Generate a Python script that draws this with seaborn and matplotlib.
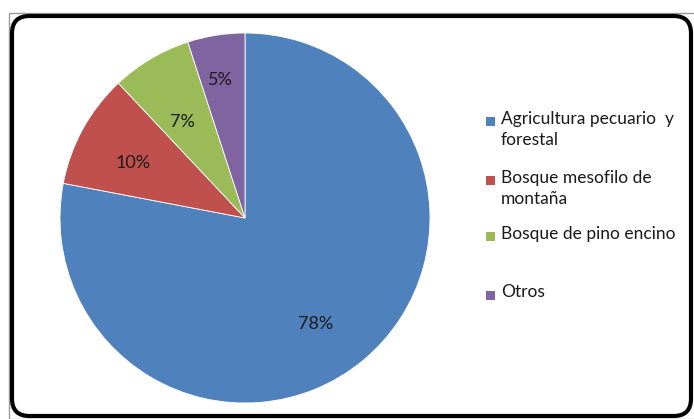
import matplotlib
matplotlib.use("Agg")
import matplotlib.pyplot as plt
from matplotlib.patches import FancyBboxPatch, Rectangle
import numpy as np
import seaborn as sns

categories = ["Agricultura pecuario  y\nforestal", "Bosque mesofilo de\nmontaña",
              "Bosque de pino encino", "Otros"]
values = [78, 10, 7, 5]
colors = sns.color_palette(["#4F81BD", "#C0504D", "#9BBB59", "#8064A2"])

# label placement: radial fraction and angular nudge (degrees) per wedge
label_radius = [0.68, 0.68, 0.63, 0.77]
label_nudge = [-5.5, 1.5, 2.0, 1.0]

sns.set_style("white")
plt.rcParams["font.family"] = ["Lato", "DejaVu Sans"]

W, H = 694, 419
fig = plt.figure(figsize=(W / 100, H / 100), dpi=100)

# outer frame
fig.patches.append(Rectangle((9 / W, 0), 1, (H - 13) / H, transform=fig.transFigure,
                             fill=False, edgecolor="#9a9a9a", linewidth=1))
fig.patches.append(FancyBboxPatch((12 / W, 3 / H), (W - 15) / W, (H - 19) / H,
                                  boxstyle="round,pad=0,rounding_size=0.025",
                                  transform=fig.transFigure, fill=False,
                                  edgecolor="black", linewidth=3,
                                  mutation_aspect=W / H))

cx, cy, r = 245, H - 218, 185
ax = fig.add_axes([(cx - r) / W, (cy - r) / H, 2 * r / W, 2 * r / H])
wedges, _ = ax.pie(values, colors=colors, startangle=90, counterclock=False,
                   wedgeprops=dict(linewidth=0.6, edgecolor="white"))
ax.set_xlim(-1, 1)
ax.set_ylim(-1, 1)
ax.set_aspect("equal")
ax.axis("off")

for w, v, lr, nd in zip(wedges, values, label_radius, label_nudge):
    ang = np.deg2rad((w.theta1 + w.theta2) / 2 + nd)
    ax.text(lr * np.cos(ang), lr * np.sin(ang) - 0.012, f"{v}%", ha="center",
            va="center", fontsize=13, color="#1a1a1a")

# legend
leg_y = [122, 181, 237, 295]
for c, lab, y in zip(colors, categories, leg_y):
    fig.patches.append(Rectangle((486 / W, (H - y - 4.5) / H), 9 / W, 9 / H,
                                 transform=fig.transFigure, facecolor=c, edgecolor="none"))
    fig.text(501 / W, (H - y + 11) / H, lab, ha="left", va="top", fontsize=12.5,
             color="#1a1a1a", linespacing=1.38)

fig.savefig("out.png", dpi=100)
